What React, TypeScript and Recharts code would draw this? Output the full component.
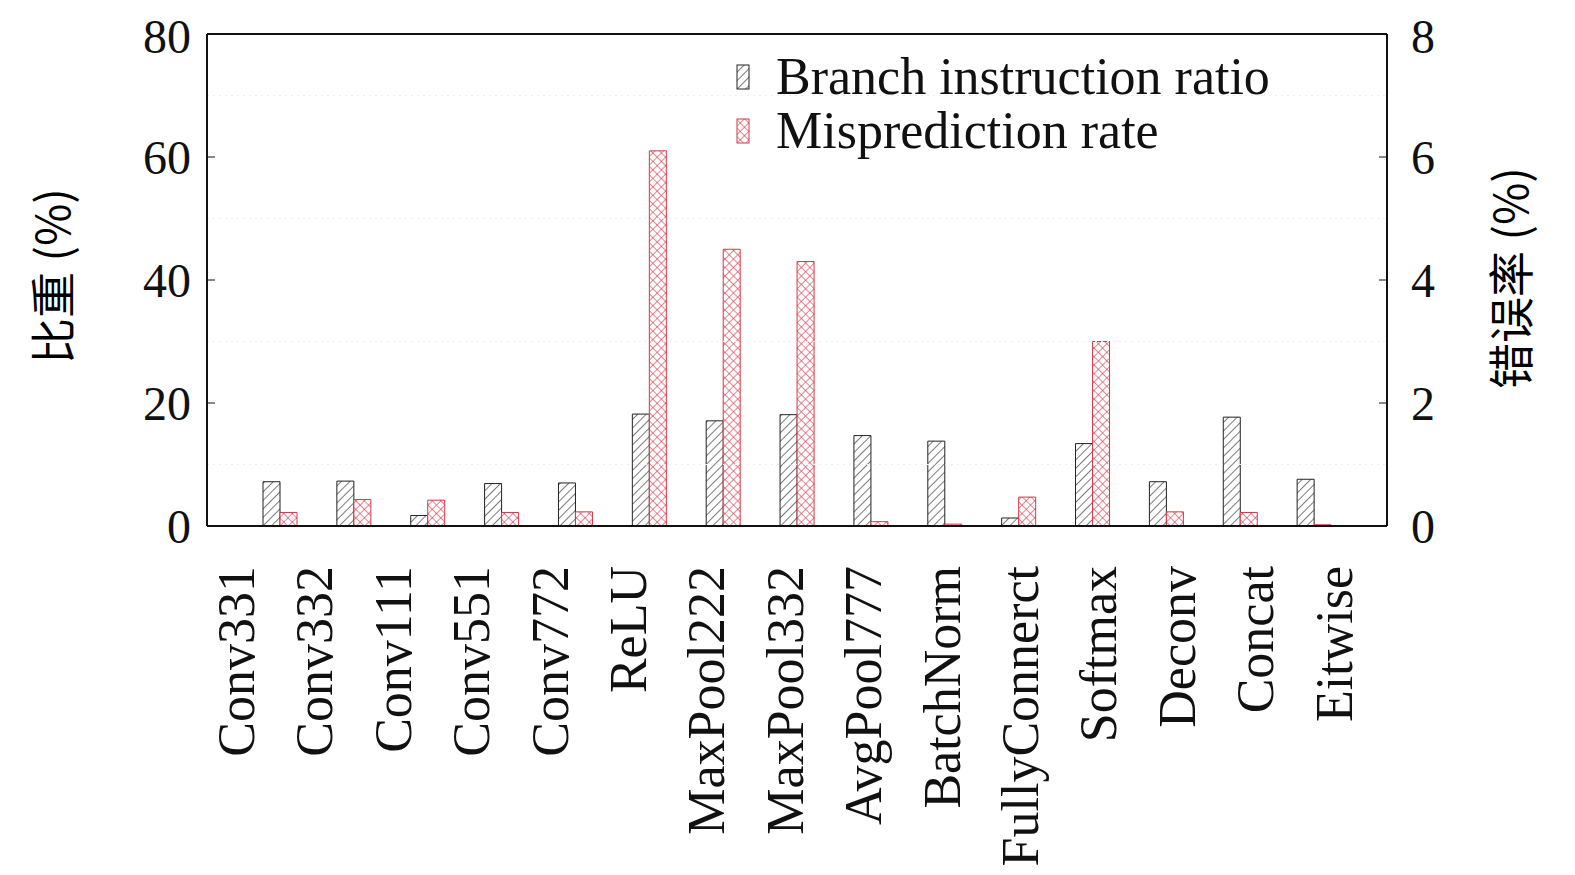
import React from "react";
import { BarChart, Bar, XAxis, YAxis, ReferenceLine } from "recharts";

const categories = ["Conv331","Conv332","Conv111","Conv551","Conv772","ReLU","MaxPool222","MaxPool332","AvgPool777","BatchNorm","FullyConnerct","Softmax","Deconv","Concat","Eitwise"];
const branchRatio = [7.2,7.3,1.7,6.9,7.0,18.2,17.1,18.1,14.7,13.8,1.3,13.4,7.2,17.7,7.6];
const mispredRate = [0.22,0.43,0.42,0.22,0.23,6.1,4.5,4.3,0.07,0.03,0.47,3.0,0.23,0.22,0.02];
const leftTicks = [0,20,40,60,80];
const rightTicks = [0,2,4,6,8];

const data = categories.map((name, i) => ({ name, branch: branchRatio[i], miss: mispredRate[i] }));

const FONT = "'Liberation Serif', 'Times New Roman', serif";
const RED = "#d4384a";

const XTick = (props: any) => {
  const { index, y, payload } = props;
  const x = 229 + index * 78.4 + 17;
  return (
    <text x={x} y={y + 32} transform={`rotate(-90 ${x} ${y + 32})`} textAnchor="end" fontFamily={FONT} fontSize={52} fill="#111">
      {payload.value}
    </text>
  );
};

export default function App() {
  return (
    <div style={{ position: "relative", width: 1560, height: 860, fontFamily: FONT }}>
      <BarChart width={1560} height={860} data={data} barSize={17} barGap={0}
        margin={{ top: 26, right: 0, left: 0, bottom: 0 }}>
        <defs>
          <pattern id="hatch" width="6" height="6" patternUnits="userSpaceOnUse" patternTransform="rotate(45)">
            <rect width="6" height="6" fill="#fff" />
            <line x1="0" y1="0" x2="0" y2="6" stroke="#222" strokeWidth="1.2" />
          </pattern>
          <pattern id="cross" width="6" height="6" patternUnits="userSpaceOnUse" patternTransform="rotate(45)">
            <rect width="6" height="6" fill="#fff" />
            <line x1="0" y1="0" x2="0" y2="6" stroke={RED} strokeWidth="1.2" />
            <line x1="0" y1="0" x2="6" y2="0" stroke={RED} strokeWidth="1.2" />
          </pattern>
        </defs>
        <XAxis dataKey="name" height={342} interval={0} padding={{ left: 36, right: 36 }}
          tick={<XTick />} tickLine={false} axisLine={{ stroke: "#111", strokeWidth: 2 }} />
        <YAxis yAxisId="l" width={199} domain={[0, 80]} ticks={leftTicks} tickSize={-8}
          tick={{ fontSize: 48, fill: "#111", fontFamily: FONT, dx: -22 }}
          axisLine={{ stroke: "#111", strokeWidth: 2 }} tickLine={{ stroke: "#111" }} />
        <YAxis yAxisId="r" orientation="right" width={181} domain={[0, 8]} ticks={rightTicks} tickSize={-8}
          tick={{ fontSize: 48, fill: "#111", fontFamily: FONT, dx: 30 }}
          axisLine={{ stroke: "#111", strokeWidth: 2 }} tickLine={{ stroke: "#111" }} />
        {[10, 30, 50, 70].map((v) => (
          <ReferenceLine key={v} yAxisId="l" y={v} stroke="#eeeeee" strokeDasharray="2 4" />
        ))}
        <ReferenceLine yAxisId="l" y={80} stroke="#111" strokeWidth={2} />
        <Bar yAxisId="l" dataKey="branch" fill="url(#hatch)" stroke="#222" strokeWidth={1} isAnimationActive={false} />
        <Bar yAxisId="r" dataKey="miss" fill="url(#cross)" stroke={RED} strokeWidth={1} isAnimationActive={false} />
      </BarChart>
      <div style={{ position: "absolute", left: 42, top: 268, transform: "translate(-50%,-50%) rotate(-90deg)", fontSize: 46, whiteSpace: "nowrap", fontFamily: "'Noto Sans CJK SC', " + FONT }}>
        比重 (%)
      </div>
      <div style={{ position: "absolute", left: 1500, top: 270, transform: "translate(-50%,-50%) rotate(-90deg)", fontSize: 46, whiteSpace: "nowrap", fontFamily: "'Noto Sans CJK SC', " + FONT }}>
        错误率 (%)
      </div>
      <div style={{ position: "absolute", left: 728, top: 42, fontSize: 52, color: "#111", lineHeight: "54px" }}>
        <div style={{ display: "flex", alignItems: "center" }}>
          <svg width={14} height={26} style={{ marginRight: 26 }}><rect x={1} y={1} width={12} height={24} fill="url(#hatch)" stroke="#222" /></svg>
          Branch instruction ratio
        </div>
        <div style={{ display: "flex", alignItems: "center" }}>
          <svg width={14} height={26} style={{ marginRight: 26 }}><rect x={1} y={1} width={12} height={24} fill="url(#cross)" stroke={RED} /></svg>
          Misprediction rate
        </div>
      </div>
    </div>
  );
}
